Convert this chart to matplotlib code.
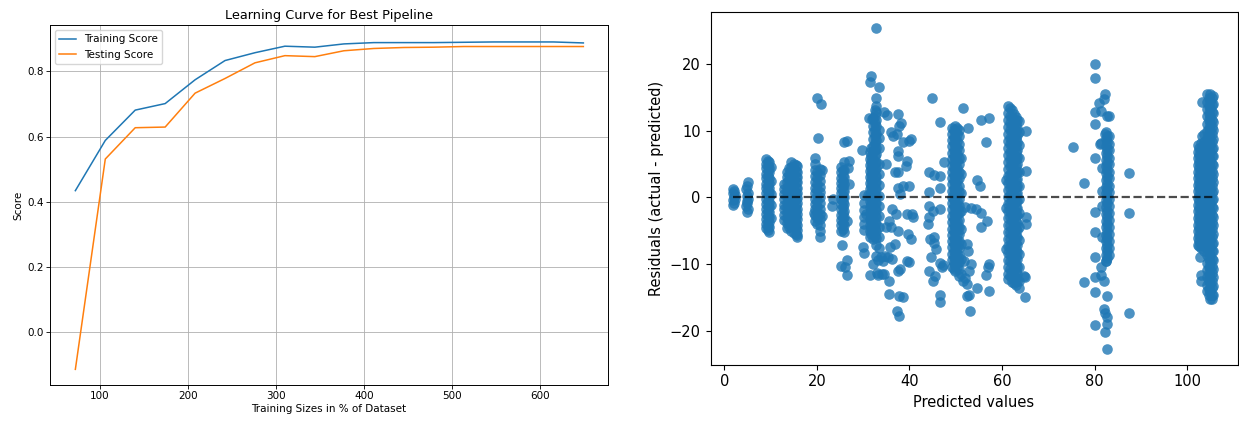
import matplotlib
matplotlib.use("Agg")
import matplotlib.pyplot as plt

# ---------------- Learning curve data ----------------
train_sizes = [72, 106, 140, 174, 208, 242, 276, 310, 344, 377, 411, 445, 479, 513, 547, 581, 615, 649]
train_scores = [0.434, 0.588, 0.681, 0.701, 0.774, 0.833, 0.857, 0.877, 0.874, 0.884, 0.888, 0.888,
                0.888, 0.889, 0.890, 0.890, 0.890, 0.887]
test_scores = [-0.114, 0.531, 0.627, 0.629, 0.733, 0.778, 0.826, 0.848, 0.845, 0.863, 0.870, 0.873,
               0.874, 0.876, 0.876, 0.876, 0.876, 0.876]

# ---------------- Residual data (predicted, residual) ----------------
# dense strips: (predicted value, [residuals...])
strips_low = [
    (9.1, [5.8, 5.1, 4.4, 3.6, 2.9, 2.1, 1.4, 0.6, -0.2, -1.0, -1.8, -2.5, -3.3, -4.0, -4.6]),
    (9.4, [5.5, 4.7, 4.0, 3.2, 2.5, 1.8, 1.0, 0.3, -0.5, -1.3, -2.0, -2.8, -3.5, -4.3, -4.9]),
    (9.7, [5.3, 4.5, 3.8, 3.0, 2.2, 1.5, 0.8, 0.0, -0.7, -1.5, -2.2, -3.0, -3.7, -4.5, -5.2]),
    (10.1, [4.6, 2.5, 0.5, -1.2, -3.1]),
    (12.9, [2.0, 1.2, 0.5, -0.3, -1.1, -1.8, -2.6, -3.4]),
    (13.6, [3.9, 3.1, 2.3, 1.5, 0.8, 0.0, -0.8, -1.6, -2.3, -3.1, -3.9, -4.6]),
    (14.0, [4.4, 3.6, 2.8, 2.0, 1.2, 0.4, -0.4, -1.2, -2.0, -2.8, -3.6, -4.4]),
    (14.4, [5.4, 4.6, 3.8, 3.0, 2.2, 1.4, 0.6, -0.2, -1.0, -1.8, -2.6, -3.4, -4.2, -5.0]),
    (15.1, [5.1, 4.3, 3.5, 2.7, 1.9, 1.1, 0.3, -0.5, -1.3, -2.1, -2.9, -3.7, -4.5, -5.3]),
    (15.45, [4.9, 4.0, 3.1, 2.3, 1.4, 0.5, -0.3, -1.2, -2.0, -2.9, -3.8, -4.6, -5.5]),
    (15.8, [4.7, 3.9, 3.1, 2.3, 1.5, 0.7, -0.1, -0.9, -1.7, -2.5, -3.3, -4.1, -4.9, -5.6, -6.0]),
    (19.6, [5.9, 5.0, 4.1, 3.2, 2.3, 1.5, 0.7, -0.2, -1.0, -1.8, -2.7, -3.5]),
    (20.1, [3.8, 2.9, 2.0, 1.2, 0.3, -0.6, -1.4, -2.3, -3.1, -4.0]),
    (20.6, [4.3, 3.4, 2.5, 1.6, 0.8, 0.0, -0.8, -1.7, -2.5, -3.3, -4.2, -5.0, -5.9]),
    (25.2, [4.6, 3.8, 3.0, 2.2, 1.4, 0.6, -0.2, -1.0, -1.8, -2.6, -3.4, -4.2, -5.0]),
    (25.55, [4.1, 3.3, 2.5, 1.7, 0.9, 0.1, -0.7, -1.5, -2.3, -3.1, -3.9, -4.7]),
    (25.9, [5.3, 4.2, 3.1, 2.1, 1.0, 0.0, -1.0, -2.0, -3.0, -4.1, -5.2]),
]
strips_mid = [
    (30.1, [0.4, -0.8, -1.9, -2.9, -4.0, -4.9]),
    (31.4, [6.8, 5.8, 4.9, 4.0, 3.1, 2.2, 1.3, 0.4, -0.5, -1.4, -2.3, -3.2, -4.1, -5.0, -5.9]),
    (31.75, [7.5, 6.3, 5.3, 4.4, 3.5, 2.6, 1.7, 0.8, -0.1, -1.0, -1.9, -2.8, -3.7, -4.6, -5.5]),
    (32.1, [11.9, 10.8, 9.8, 8.8, 7.8, 6.8, 5.8, 4.8, 3.8, 2.8, 1.8, 0.8, -0.2, -1.2, -2.2, -3.2,
            -4.2, -5.2, -6.2]),
    (32.45, [13.2, 12.3, 11.2, 10.2, 9.2, 8.2, 7.2, 6.2, 5.2, 4.2, 3.2, 2.2, 1.2, 0.2, -0.8, -1.8,
             -2.8, -3.8, -4.8, -5.8]),
    (32.8, [14.9, 13.8, 12.8, 11.7, 10.7, 9.6, 8.6, 7.5, 6.5, 5.4, 4.4, 3.3, 2.3, 1.2, 0.2, -0.9,
            -1.9, -3.0, -4.0, -5.1, -6.1, -7.2]),
    (33.5, [10.2, 8.9, 7.4, 5.1, 3.6, 1.9, 0.2, -1.3, -2.8, -4.4, -5.9, -7.6]),
    (49.2, [10.5, 9.6, 8.6, 7.7, 6.7, 5.8, 4.8, 3.9, 2.9, 2.0, 1.0, 0.1, -0.9, -1.8, -2.8, -3.7,
            -4.7, -5.6, -6.6, -7.5, -8.5, -9.4, -10.4]),
    (49.55, [10.1, 9.1, 8.2, 7.2, 6.3, 5.3, 4.4, 3.4, 2.5, 1.5, 0.6, -0.4, -1.3, -2.3, -3.2, -4.2,
             -5.1, -6.1, -7.0, -8.0, -8.9, -9.9, -10.7]),
    (49.9, [10.7, 9.8, 8.8, 7.9, 6.9, 6.0, 5.0, 4.1, 3.1, 2.2, 1.2, 0.3, -0.7, -1.6, -2.6, -3.5,
            -4.5, -5.4, -6.4, -7.3, -8.3, -9.2, -10.2, -11.0]),
    (50.25, [10.5, 9.5, 8.5, 7.5, 6.5, 5.5, 4.5, 3.5, 2.5, 1.5, 0.5, -0.5, -1.5, -2.5, -3.5, -4.5,
             -5.5, -6.5, -7.5, -8.5, -9.5, -10.5]),
    (50.6, [10.2, 9.2, 8.1, 7.1, 6.0, 5.0, 3.9, 2.9, 1.8, 0.8, -0.3, -1.3, -2.4, -3.4, -4.5, -5.5,
            -6.6, -7.6, -8.7, -9.7, -10.8]),
    (51.1, [6.0, 3.6, 0.6, -2.0, -4.8, -7.0, -9.2, -11.5]),
]
strips_high = [
    (61.4, [13.7, 12.7, 11.6, 10.6, 9.5, 8.5, 7.4, 6.4, 5.3, 4.3, 3.2, 2.2, 1.1, 0.1, -1.0, -2.0,
            -3.1, -4.1, -5.2, -6.2, -7.3, -8.3, -9.4, -10.4, -11.5, -12.2]),
    (61.8, [13.4, 12.3, 11.2, 10.1, 9.0, 8.0, 6.9, 5.8, 4.7, 3.6, 2.5, 1.4, 0.3, -0.8, -1.9, -3.0,
            -4.1, -5.2, -6.3, -7.4, -8.5, -9.6, -10.7, -11.8]),
    (62.2, [13.2, 12.1, 11.1, 10.0, 9.0, 7.9, 6.9, 5.8, 4.8, 3.7, 2.7, 1.6, 0.6, -0.5, -1.5, -2.6,
            -3.6, -4.7, -5.7, -6.8, -7.8, -8.9, -9.9, -11.0, -12.0, -12.7]),
    (62.6, [12.6, 11.5, 10.4, 9.3, 8.2, 7.1, 6.0, 4.9, 3.8, 2.7, 1.6, 0.5, -0.6, -1.7, -2.8, -3.9,
            -5.0, -6.1, -7.2, -8.3, -9.4, -10.5, -11.6, -12.9]),
    (63.0, [12.1, 11.0, 10.0, 8.9, 7.9, 6.8, 5.8, 4.7, 3.7, 2.6, 1.6, 0.5, -0.5, -1.6, -2.6, -3.7,
            -4.7, -5.8, -6.8, -7.9, -8.9, -10.0, -11.0, -12.1, -13.2]),
    (63.35, [11.6, 10.5, 9.4, 8.3, 7.2, 6.1, 5.0, 3.9, 2.8, 1.7, 0.6, -0.5, -1.6, -2.7, -3.8, -4.9,
             -6.0, -7.1, -8.2, -9.3, -10.4, -11.5, -12.6]),
    (63.7, [11.5, 9.8, 7.9, 5.9, 3.8, 1.8, -0.3, -2.3, -4.4, -6.4, -8.5, -10.5, -12.6, -13.6]),
    (82.4, [9.8, 8.8, 7.8, 6.7, 5.7, 4.7, 3.7, 2.6, 1.6, 0.6, -0.4, -1.5, -2.5, -3.5, -4.5, -5.6,
            -6.6, -7.6, -8.6, -9.6]),
    (82.75, [9.3, 8.3, 7.2, 6.2, 5.2, 4.2, 3.1, 2.1, 1.1, 0.1, -0.9, -2.0, -3.0, -4.0, -5.0, -6.1,
             -7.1, -8.1, -9.1]),
    (83.1, [9.2, 8.1, 7.1, 6.0, 5.0, 3.9, 2.9, 1.8, 0.8, -0.3, -1.3, -2.4, -3.4, -4.5, -5.5, -6.6,
            -7.6, -8.7]),
    (102.3, [7.9, 6.9, 5.9, 4.9, 3.9, 2.9, 1.9, 0.9, -0.1, -1.1, -2.1, -3.1, -4.1, -5.1, -6.1, -7.1]),
    (102.65, [7.4, 6.4, 5.4, 4.4, 3.4, 2.4, 1.4, 0.4, -0.6, -1.6, -2.6, -3.6, -4.6, -5.6, -6.6, -7.3]),
    (103.0, [8.2, 7.2, 6.2, 5.2, 4.2, 3.2, 2.2, 1.2, 0.2, -0.8, -1.8, -2.8, -3.8, -4.8, -5.8, -6.8,
             -7.6]),
    (103.35, [7.7, 6.7, 5.7, 4.7, 3.7, 2.7, 1.7, 0.7, -0.3, -1.3, -2.3, -3.3, -4.3, -5.3, -6.3, -7.3]),
    (103.7, [9.5, 8.4, 7.3, 6.2, 5.1, 4.0, 2.9, 1.8, 0.7, -0.4, -1.5, -2.6, -3.7, -4.8, -5.9, -7.0,
             -8.1]),
    (104.4, [15.5, 14.4, 13.3, 12.2, 11.1, 10.0, 8.9, 7.8, 6.7, 5.6, 4.5, 3.4, 2.3, 1.2, 0.1, -1.0,
             -2.1, -3.2, -4.3, -5.4, -6.5, -7.6, -8.7, -9.8, -10.9, -12.0, -13.1, -14.0]),
    (104.7, [14.9, 13.8, 12.7, 11.6, 10.5, 9.4, 8.3, 7.2, 6.1, 5.0, 3.9, 2.8, 1.7, 0.6, -0.5, -1.6,
             -2.7, -3.8, -4.9, -6.0, -7.1, -8.2, -9.3, -10.4, -11.5, -12.6, -13.7, -14.7]),
    (105.0, [15.6, 14.5, 13.4, 12.3, 11.2, 10.1, 9.0, 7.9, 6.8, 5.7, 4.6, 3.5, 2.4, 1.3, 0.2, -0.9,
             -2.0, -3.1, -4.2, -5.3, -6.4, -7.5, -8.6, -9.7, -10.8, -11.9, -13.0, -14.1, -15.2]),
    (105.3, [15.0, 13.9, 12.8, 11.7, 10.6, 9.5, 8.4, 7.3, 6.2, 5.1, 4.0, 2.9, 1.8, 0.7, -0.4, -1.5,
             -2.6, -3.7, -4.8, -5.9, -7.0, -8.1, -9.2, -10.3, -11.4, -12.5, -13.6, -14.7, -15.3]),
    (105.6, [15.2, 14.0, 12.7, 11.4, 10.1, 8.8, 7.5, 6.2, 4.9, 3.6, 2.3, 1.0, -0.3, -1.6, -2.9, -4.2,
             -5.5, -6.8, -8.1, -9.4, -10.7, -12.0, -13.3, -14.6]),
]

# individual points (predicted, residual)
points_low = [
    (1.9, -1.2), (2.1, -0.8), (1.8, -0.4), (2.0, 0.0), (2.2, 0.3), (1.9, 0.7), (2.0, 1.0), (1.8, 1.3),
    (2.2, -0.2),
    (4.8, -2.2), (5.0, -1.7), (4.7, -1.3), (4.9, -0.8), (5.1, -0.3), (4.8, 0.2), (5.0, 0.7), (4.7, 1.2),
    (4.9, 1.7), (5.1, 2.3), (4.8, -0.5),
    (20.0, 14.9), (20.9, 14.0), (20.2, 8.9), (21.2, 4.1), (21.0, -2.8), (19.4, -2.4),
    (23.2, -1.3), (23.5, -0.2),
    (25.8, 8.3), (26.6, 8.5), (26.9, 5.5), (27.0, 2.0), (26.5, -3.6), (25.5, -7.2), (26.6, -9.4),
    (25.2, -10.3), (26.1, -10.4), (26.6, -11.6), (26.8, 4.5),
]
points_mid = [
    (32.8, 25.4), (31.6, 18.2), (31.5, 17.4), (33.4, 16.6), (31.3, 12.0), (31.8, 11.8), (29.8, 7.2),
    (30.0, -7.4), (30.1, -8.3), (31.5, -11.7), (32.9, -11.3), (32.1, -10.0), (32.7, -8.8),
    (33.3, -9.4), (33.9, -9.0), (34.0, -11.5), (33.3, -11.6), (30.6, -2.5), (31.0, 0.3),
    (35.2, 12.4), (34.5, 12.8), (37.5, 12.5), (38.2, 11.2), (37.8, 10.8), (36.0, 9.8), (36.5, 9.2),
    (37.2, 9.5), (38.5, 8.3), (40.0, 8.5), (40.4, 8.8), (39.5, 5.5), (39.3, 4.8), (37.5, 7.0),
    (37.5, 6.2), (35.0, 5.0), (36.8, 3.8), (37.5, 3.8), (38.5, 1.8), (40.0, 1.8), (37.5, 1.5),
    (38.0, 0.5), (39.5, -2.5), (40.5, -2.5), (40.8, -3.0), (39.7, -5.5), (40.4, -6.2), (37.5, -5.0),
    (35.0, -4.5), (36.0, -4.5), (37.0, -2.5), (36.3, -1.8), (35.5, -3.5), (36.8, -7.0), (35.8, -7.5),
    (35.3, -9.0), (35.5, -12.5), (34.6, -11.5), (37.5, -11.0), (38.0, -10.8), (39.5, -9.5),
    (40.0, -9.7), (38.5, -15.0), (35.5, -14.5), (37.8, -14.8), (37.2, -17.0), (37.8, -17.8),
    (36.2, -9.3), (34.8, -8.8), (34.2, -9.5),
    (44.8, 15.0), (46.5, 11.3), (47.5, 5.3), (44.3, 3.8), (45.2, 3.4), (46.6, 3.2), (44.3, 0.8),
    (46.6, 1.5), (44.3, -1.3), (45.0, -2.0), (46.7, -1.8), (44.2, -3.0), (44.1, -4.0), (45.2, -6.0),
    (44.5, -6.2), (45.3, -6.8), (45.7, -7.8), (46.5, -9.8), (47.0, -10.5), (44.2, -11.0),
    (45.0, -12.5), (45.5, -11.8), (46.7, -14.6), (46.7, -15.7), (44.6, -9.0), (47.2, -10.2),
    (51.6, 13.5), (52.6, 10.5), (52.1, -1.5), (52.4, -7.0), (52.6, -8.0), (51.8, -9.6), (52.0, -12.1),
    (52.4, -13.0), (52.9, -14.6), (52.4, -14.8), (53.1, -17.0), (53.2, -10.0), (52.8, -11.0),
    (51.5, -12.5), (50.7, -11.8),
    (55.5, 11.7), (57.1, 12.0), (56.6, 8.3), (54.5, 2.6), (55.3, 1.7), (53.2, -1.6), (54.3, -1.8),
    (55.5, -2.3), (56.7, -3.5), (55.5, -4.5), (57.2, -10.0), (57.0, -10.4), (56.5, -11.6),
    (57.1, -14.0), (54.5, -13.6),
]
points_high = [
    (65.2, 10.0), (65.2, 4.0), (65.2, -3.0), (65.2, -4.0), (65.0, -12.0), (64.8, -11.8), (65.0, -14.9),
    (60.9, 2.7), (60.9, -1.6), (60.9, -7.8),
    (75.4, 7.6), (77.8, 2.2), (77.8, -12.7),
    (80.2, 20.0), (80.2, 18.0), (80.0, 12.9), (80.0, 11.0), (80.2, 6.0), (80.2, -2.2), (80.2, -5.2),
    (80.0, -9.0), (80.2, -12.0), (80.2, -14.2), (80.2, -19.2), (81.0, 14.2), (82.3, 15.5),
    (82.0, 14.8), (81.4, 13.0), (82.6, 12.2), (83.1, 12.3), (82.3, 9.6), (81.5, 8.2), (81.2, 8.0),
    (82.5, -9.5), (81.5, -10.4), (81.3, -11.6), (82.0, -12.5), (82.8, -14.8), (82.0, -16.8),
    (82.3, -17.4), (82.8, -17.9), (82.8, -19.0), (82.3, -20.2), (82.8, -22.8), (81.6, -1.3),
    (81.6, 1.0), (81.7, -6.0), (81.7, 4.5),
    (87.5, 3.7), (87.5, -2.3), (87.5, -17.3),
    (103.0, -11.6), (103.0, -12.6), (103.3, 14.3), (103.3, 9.3), (102.9, -9.0),
]

predicted = []
residuals = []
for strips in (strips_low, strips_mid, strips_high):
    for xval, ys in strips:
        for yv in ys:
            predicted.append(xval)
            residuals.append(yv)
for pts in (points_low, points_mid, points_high):
    for xval, yv in pts:
        predicted.append(xval)
        residuals.append(yv)

# ---------------- Figure ----------------
fig = plt.figure(figsize=(12.39, 4.23), dpi=100)

# Left: learning curve (smaller rendering)
ax1 = fig.add_axes([50 / 1239, 1 - 385 / 423, 558 / 1239, 360 / 423])
ax1.plot(train_sizes, train_scores, label="Training Score", color="#1f77b4", lw=1.1)
ax1.plot(train_sizes, test_scores, label="Testing Score", color="#ff7f0e", lw=1.1)
ax1.set_xlim(43.2, 677)
ax1.set_ylim(-0.162, 0.942)
ax1.set_xticks([100, 200, 300, 400, 500, 600])
ax1.set_yticks([0.0, 0.2, 0.4, 0.6, 0.8])
ax1.grid(True, color="#b0b0b0", lw=0.6)
ax1.set_title("Learning Curve for Best Pipeline", fontsize=9.3, pad=4)
ax1.set_xlabel("Training Sizes in % of Dataset", fontsize=7.5, labelpad=2)
ax1.set_ylabel("Score", fontsize=7.5, labelpad=3)
ax1.tick_params(labelsize=7.5, width=0.6, length=2.6, pad=2)
for s in ax1.spines.values():
    s.set_linewidth(0.7)
ax1.legend(loc="upper left", fontsize=7.5, handlelength=1.6)

# Right: residual plot
ax2 = fig.add_axes([710.5 / 1239, 1 - 364.7 / 423, 527 / 1239, 352.4 / 423])
ax2.scatter(predicted, residuals, s=58, color="#1f77b4", alpha=0.8, linewidths=0)
ax2.hlines(0, min(predicted), max(predicted), colors="k", linestyles="--", lw=1.6, alpha=0.7)
ax2.set_xlim(-3.0, 110.9)
ax2.set_ylim(-25.1, 27.8)
ax2.set_xticks([0, 20, 40, 60, 80, 100])
ax2.set_yticks([-20, -10, 0, 10, 20])
ax2.set_xlabel("Predicted values", fontsize=10.5)
ax2.set_ylabel("Residuals (actual - predicted)", fontsize=10.5)
ax2.tick_params(labelsize=10.5)

fig.savefig("out.png", dpi=100)
